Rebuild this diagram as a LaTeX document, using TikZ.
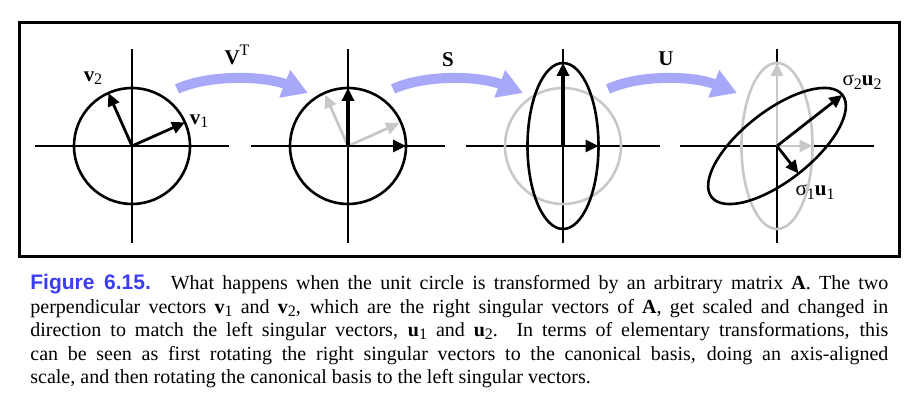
\documentclass[tikz,border=0pt]{standalone}
\usepackage{fontspec}
\setmainfont{Liberation Serif}
\newfontfamily\capfont{Liberation Sans}
\usetikzlibrary{arrows.meta,calc}
\definecolor{bendcolor}{HTML}{A8A8F8}
\definecolor{captioncolor}{HTML}{3C3CF2}
\definecolor{ghostcolor}{HTML}{C8C8C8}
\newcommand{\lowsub}[1]{\raisebox{-0.35ex}{\footnotesize #1}}
\newcommand{\vecsub}[2]{\textbf{#1}\lowsub{#2}}

\tikzset{
    axisline/.style={line width=0.6pt},
    shapeline/.style={line width=1.3pt},
    vecarrow/.style={line width=1.4pt, -{Triangle[length=6.5pt,width=6pt]}},
    ghostarrow/.style={vecarrow, color=ghostcolor},
    bendarrow/.style={line width=5pt, color=bendcolor, -{Triangle[length=12.5pt,width=14pt]}},
    veclabel/.style={font=\fontsize{10.5}{12}\selectfont, inner sep=1pt}
}

\begin{document}
\begin{tikzpicture}[x=0.5pt, y=0.5pt]
    \useasboundingbox (0,0) rectangle (923,416);

    % Frame
    \draw[line width=1.5pt] (19,159) rectangle (899,393);

    % Panel centres
    \coordinate (o1) at (132,270);
    \coordinate (o2) at (348,270);
    \coordinate (o3) at (563,270);
    \coordinate (o4) at (777,270);

    % Axes
    \foreach \p in {o1,o2,o3,o4} {
        \draw[axisline] ($(\p)+(-97,0)$) -- ($(\p)+(97,0)$);
        \draw[axisline] ($(\p)+(0,-97)$) -- ($(\p)+(0,97)$);
    }

    % Panel 1: unit circle with v1, v2
    \draw[shapeline] (o1) circle [radius=58];
    \draw[vecarrow] (o1) -- ($(o1)+(24:58)$);
    \draw[vecarrow] (o1) -- ($(o1)+(114:58)$);
    \node[veclabel] (v1) at (199,295) {\vecsub{v}{1}};
    \node[veclabel] (v2) at (93,338) {\vecsub{v}{2}};

    % Panel 2: rotated to canonical basis
    \draw[ghostarrow] (o2) -- ($(o2)+(24:56)$);
    \draw[ghostarrow] (o2) -- ($(o2)+(114:56)$);
    \draw[shapeline] (o2) circle [radius=58];
    \draw[vecarrow] (o2) -- ($(o2)+(58,0)$);
    \draw[vecarrow, line width=2pt] (o2) -- ($(o2)+(0,58)$);

    % Panel 3: axis-aligned scale
    \draw[shapeline, color=ghostcolor] (o3) circle [radius=58];
    \draw[shapeline] (o3) ellipse [x radius=35.5, y radius=83];
    \draw[vecarrow] (o3) -- ($(o3)+(35.5,0)$);
    \draw[vecarrow, line width=2pt] (o3) -- ($(o3)+(0,83)$);

    % Panel 4: rotated to left singular vectors
    \draw[shapeline, color=ghostcolor] (o4) ellipse [x radius=35.5, y radius=83];
    \draw[ghostarrow] (o4) -- ($(o4)+(35.5,0)$);
    \draw[ghostarrow] (o4) -- ($(o4)+(0,83)$);
    \draw[shapeline, rotate around={38:(o4)}] (o4) ellipse [x radius=83, y radius=35];
    \draw[vecarrow] (o4) -- ($(o4)+(38:83)$);
    \draw[vecarrow] (o4) -- ($(o4)+(-52:35)$);
    \node[veclabel] (su2) at (862,334) {σ\lowsub{2}\vecsub{u}{2}};
    \node[veclabel] (su1) at (815,224) {σ\lowsub{1}\vecsub{u}{1}};

    % Transformation arrows
    \foreach \a/\b/\name in {o1/o2/VT, o2/o3/S, o3/o4/U} {
        \coordinate (\name start) at ($(\a)+(45,57)$);
        \coordinate (\name end) at ($(\b)+(-40,53)$);
        \draw[bendarrow] (\name start) .. controls ($(\name start)+(33,15)$) and ($(\name end)+(-43,17)$) .. (\name end);
    }
    \node[veclabel] (VT) at (237,361) {\textbf{V}\raisebox{0.85ex}{\footnotesize T}};
    \node[veclabel] (S) at (448,356) {\textbf{S}};
    \node[veclabel] (U) at (666,357) {\textbf{U}};

    % Caption
    \node[anchor=north west, inner sep=0pt, text width=429pt, align=justify,
          font=\fontsize{10}{11.75}\selectfont] (caption) at (30,142)
    {{\capfont\bfseries\fontsize{10.5}{11.75}\selectfont\color{captioncolor}Figure 6.15.}\quad
     What happens when the unit circle is transformed by an arbitrary matrix \textbf{A}. The two\linebreak
     perpendicular vectors \vecsub{v}{1} and \vecsub{v}{2}, which are the right singular vectors of \textbf{A}, get scaled and changed in\linebreak
     direction to match the left singular vectors, \vecsub{u}{1} and \vecsub{u}{2}. In terms of elementary transformations, this\linebreak
     can be seen as first rotating the right singular vectors to the canonical basis, doing an axis-aligned\linebreak
     scale, and then rotating the canonical basis to the left singular vectors.};
\end{tikzpicture}
\end{document}
